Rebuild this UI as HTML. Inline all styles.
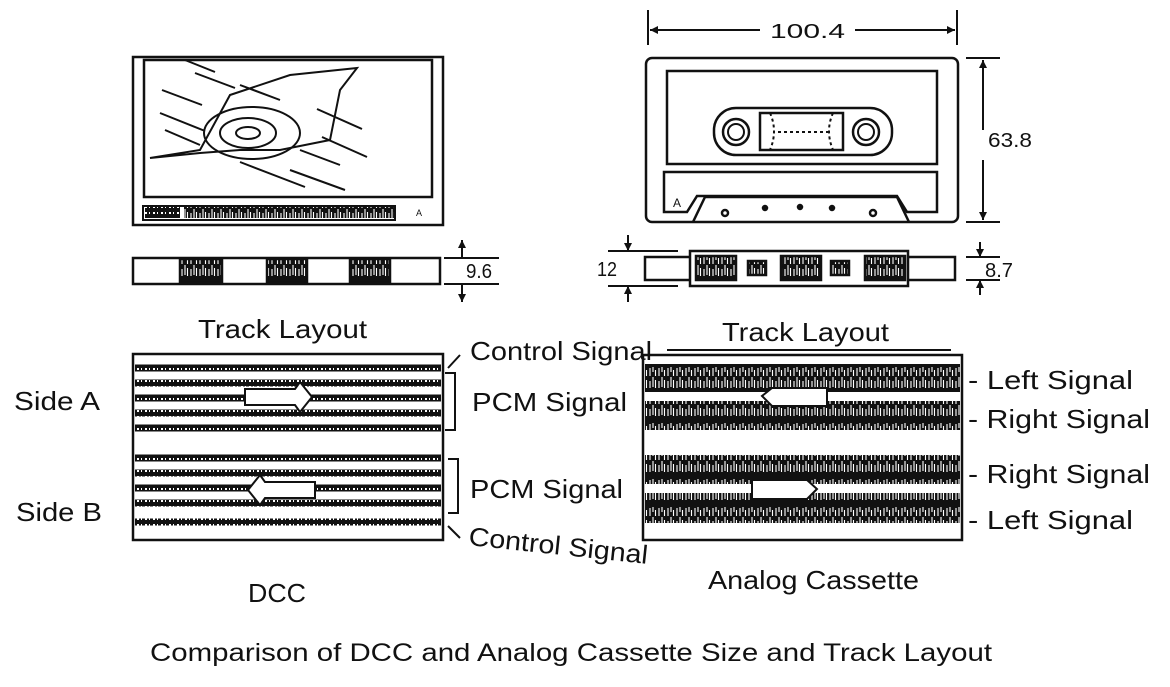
<!DOCTYPE html><html><head><style>body{margin:0;background:#fff}svg{display:block}text{font-family:"Liberation Sans",sans-serif;fill:#111}</style></head><body>
<svg width="1170" height="687" viewBox="0 0 1170 687" xmlns="http://www.w3.org/2000/svg">
<defs>
<pattern id="tex" width="9" height="28" patternUnits="userSpaceOnUse"><rect width="9" height="28" fill="#111"/><path d="M2 4v8M2 17v7M5 3v5M5 13v10M7.5 6v6M7.5 16v8" stroke="#fff" stroke-width="1.1"/></pattern>
<pattern id="dots" width="8" height="6" patternUnits="userSpaceOnUse"><rect width="8" height="6" fill="#111"/><rect x="1" y="2" width="2" height="2" fill="#fff"/><rect x="5" y="2" width="1" height="2" fill="#fff"/></pattern>
</defs>
<g fill="none" stroke="#111" stroke-width="2.5">
<rect x="133" y="57" width="310" height="168"/>
<rect x="144" y="60" width="288" height="137"/>
<rect x="143" y="206" width="252" height="14" stroke-width="2"/>
<rect x="145" y="207" width="35" height="11" fill="url(#dots)" stroke="none"/>
<rect x="184" y="207" width="210" height="11" fill="url(#tex)" stroke="none"/>
<path d="M150 158 L200 150 L230 95 L290 75 L357 68 L340 90 L330 140 L280 150 L240 150 L200 153 Z" stroke-width="2"/>
<ellipse cx="252" cy="133" rx="48" ry="26" stroke-width="2"/>
<ellipse cx="248" cy="133" rx="28" ry="15" stroke-width="2"/>
<ellipse cx="248" cy="133" rx="12" ry="6" stroke-width="2"/>
<path d="M162 90l40 15M160 113l45 18M165 130l35 15M185 60l30 12M195 73l40 15M240 85l40 15M317 109l45 20M322 137l45 20M240 162l65 25M290 170l55 20M300 150l40 15" stroke-width="2"/>
<rect x="133" y="258" width="307" height="26"/>
<rect x="180" y="259" width="42" height="24" fill="url(#tex)"/>
<rect x="267" y="259" width="40" height="24" fill="url(#tex)"/>
<rect x="350" y="259" width="40" height="24" fill="url(#tex)"/>
<path d="M444 258h55M444 284h55M462 240v18M462 284v18" stroke-width="2"/>
<path d="M648 10v35M957 10v35M650 30h110M855 30h100" stroke-width="2"/>
<rect x="646" y="58" width="312" height="164" rx="6"/>
<rect x="667" y="71" width="270" height="93"/>
<rect x="714" y="108" width="178" height="47" rx="22"/>
<circle cx="736" cy="132" r="13"/><circle cx="736" cy="132" r="8" stroke-width="2"/>
<circle cx="866" cy="132" r="13"/><circle cx="866" cy="132" r="8" stroke-width="2"/>
<rect x="760" y="113" width="83" height="37"/>
<path d="M770 113q8 18 0 37M833 113q-8 18 0 37M778 132h50" stroke-width="2" stroke-dasharray="3 3"/>
<path d="M664 172h273v40h-30l-10-16h-200l-10 16h-23z"/>
<path d="M693 222l12-25h192l12 25"/>
<circle cx="725" cy="213" r="3"/><circle cx="765" cy="208" r="2" fill="#111"/><circle cx="800" cy="207" r="2" fill="#111"/><circle cx="832" cy="208" r="2" fill="#111"/><circle cx="873" cy="213" r="3"/>
<path d="M966 58h34M966 222h34M983 60v70M983 160v60" stroke-width="2"/>
<rect x="645" y="257" width="310" height="23"/>
<rect x="690" y="251" width="218" height="35" fill="#fff"/>
<rect x="696" y="256" width="40" height="24" fill="url(#tex)"/>
<rect x="748" y="261" width="18" height="14" fill="url(#tex)"/>
<rect x="781" y="256" width="40" height="24" fill="url(#tex)"/>
<rect x="831" y="261" width="18" height="14" fill="url(#tex)"/>
<rect x="865" y="256" width="40" height="24" fill="url(#tex)"/>
<path d="M608 251h70M608 286h70M628 235v16M628 286v16M966 257h34M966 280h34M980 242v15M980 280v15" stroke-width="2"/>
<rect x="133" y="354" width="310" height="186"/>
<g stroke="url(#dots)" stroke-width="7">
<path d="M135 368h306M135 383h306M135 398h306M135 413h306M135 428h306M135 458h306M135 473h306M135 488h306M135 503h306M135 522h306"/>
</g>
<path d="M245 389h50l5-7l12 15l-12 15l-5-7h-50z" fill="#fff" stroke-width="2"/>
<path d="M315 482h-50l-5-7l-12 15l12 15l5-7h50z" fill="#fff" stroke-width="2"/>
<path d="M445 373h10v57h-10M448 459h10v54h-10M448 368l12-13M448 526l12 12" stroke-width="2"/>
<rect x="643" y="355" width="319" height="185"/>
<rect x="645" y="364" width="315" height="28" fill="url(#tex)" stroke="none"/>
<rect x="645" y="401" width="315" height="29" fill="url(#tex)" stroke="none"/>
<rect x="645" y="455" width="315" height="29" fill="url(#tex)" stroke="none"/>
<rect x="645" y="493" width="315" height="30" fill="url(#tex)" stroke="none"/>
<path d="M827 388h-55l-10 8l10 10h55z" fill="#fff" stroke-width="2"/>
<path d="M752 480h55l10 9l-10 10h-55z" fill="#fff" stroke-width="2"/>
<path d="M667 350h284" stroke-width="2"/>
</g>
<g fill="#111">
<path d="M462 240l-4 8h8z M462 302l-4-8h8z M650 30l8-4v8z M955 30l-8-4v8z M983 60l-4 8h8z M983 220l-4-8h8z M628 251l-4-8h8z M628 286l-4 8h8z M980 257l-4-8h8z M980 280l-4 8h8z"/>
</g>
<g font-size="20">
<text x="466" y="278" textLength="26" lengthAdjust="spacingAndGlyphs">9.6</text>
<text x="770" y="38" textLength="75" lengthAdjust="spacingAndGlyphs">100.4</text>
<text x="988" y="147" textLength="44" lengthAdjust="spacingAndGlyphs">63.8</text>
<text x="597" y="276" textLength="20" lengthAdjust="spacingAndGlyphs">12</text>
<text x="985" y="277" textLength="28" lengthAdjust="spacingAndGlyphs">8.7</text>
<text x="416" y="216" font-size="9">A</text><text x="673" y="207" font-size="12">A</text></g>
<g font-size="26">
<text x="198" y="338" textLength="169" lengthAdjust="spacingAndGlyphs">Track Layout</text>
<text x="722" y="341" textLength="167" lengthAdjust="spacingAndGlyphs">Track Layout</text>
<text x="470" y="360" textLength="182" lengthAdjust="spacingAndGlyphs">Control Signal</text>
<text x="14" y="410" textLength="86" lengthAdjust="spacingAndGlyphs">Side A</text>
<text x="472" y="411" textLength="155" lengthAdjust="spacingAndGlyphs">PCM Signal</text>
<text x="470" y="498" textLength="153" lengthAdjust="spacingAndGlyphs">PCM Signal</text>
<text x="16" y="521" textLength="86" lengthAdjust="spacingAndGlyphs">Side B</text>
<text x="468" y="545" transform="rotate(6 468 545)" textLength="180" lengthAdjust="spacingAndGlyphs">Control Signal</text>
<text x="248" y="602" textLength="58" lengthAdjust="spacingAndGlyphs">DCC</text>
<text x="708" y="589" textLength="211" lengthAdjust="spacingAndGlyphs">Analog Cassette</text>
<text x="968" y="389" textLength="165" lengthAdjust="spacingAndGlyphs">- Left Signal</text>
<text x="968" y="428" textLength="182" lengthAdjust="spacingAndGlyphs">- Right Signal</text>
<text x="968" y="483" textLength="182" lengthAdjust="spacingAndGlyphs">- Right Signal</text>
<text x="968" y="529" textLength="165" lengthAdjust="spacingAndGlyphs">- Left Signal</text>
<text x="150" y="661" font-size="25" textLength="842" lengthAdjust="spacingAndGlyphs">Comparison of DCC and Analog Cassette Size and Track Layout</text>
</g>
</svg></body></html>
